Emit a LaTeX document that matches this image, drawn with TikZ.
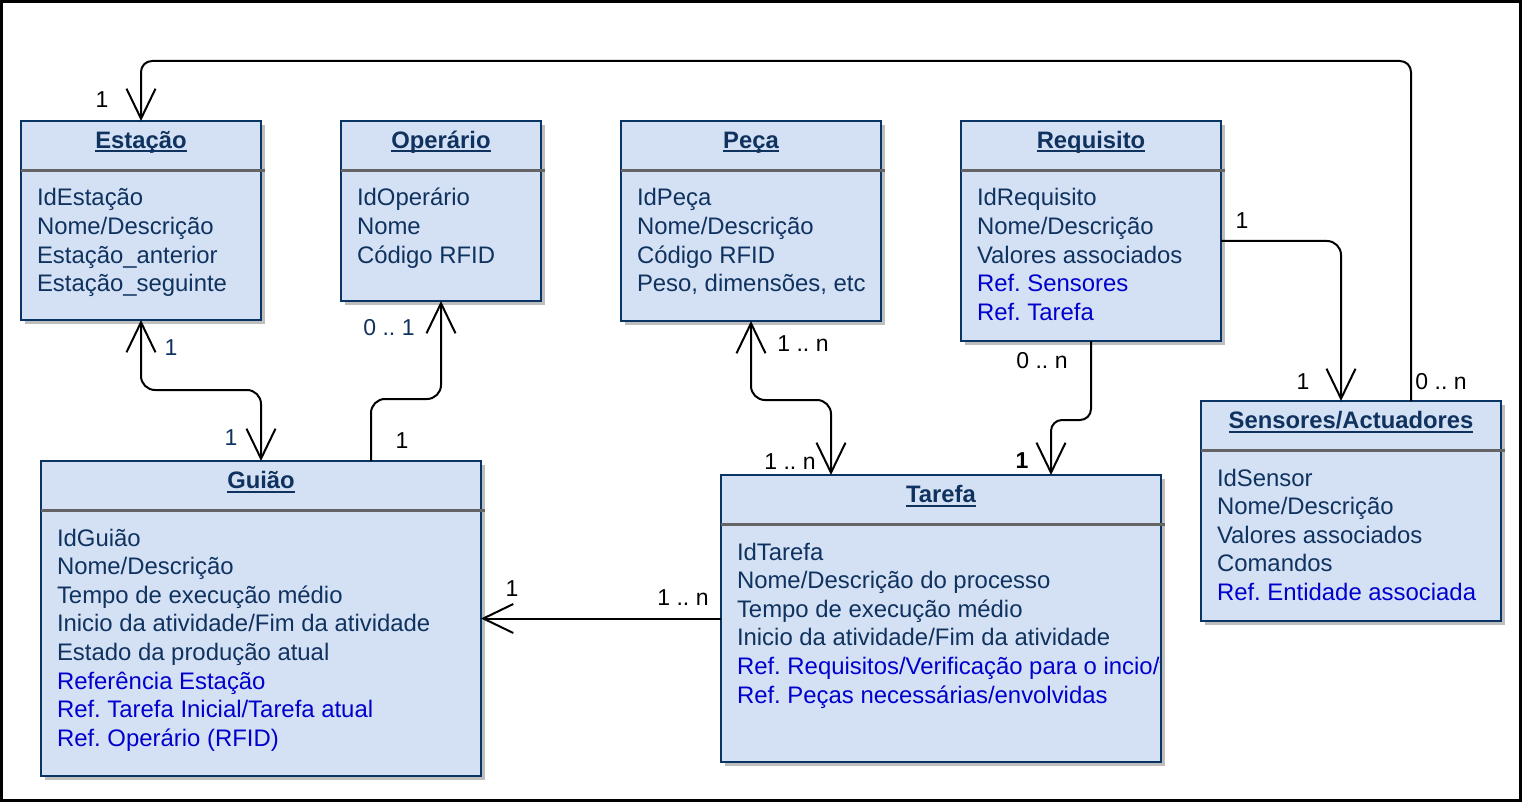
\documentclass[tikz,border=0pt]{standalone}
\usepackage{fontspec}
\setmainfont{Liberation Sans}
\usetikzlibrary{arrows.meta,calc}
\frenchspacing
\definecolor{boxfill}{RGB}{212,225,245}
\definecolor{boxline}{RGB}{10,52,100}
\definecolor{navytext}{RGB}{15,50,95}
\definecolor{refblue}{RGB}{0,0,204}
\definecolor{shadowc}{RGB}{190,190,190}
\definecolor{sepc}{RGB}{100,100,100}
\newcommand\refc[1]{\textcolor{refblue}{#1}}
\tikzset{
  classbox/.style={draw=boxline, fill=boxfill, line width=2pt, inner sep=0pt, outer sep=0pt, rectangle},
  titletext/.style={inner sep=0pt, outer sep=0pt, text=navytext, font=\fontsize{23.8}{28.6}\selectfont\bfseries},
  attrtext/.style={inner sep=0pt, outer sep=0pt, text=navytext, font=\fontsize{23.9}{28.6}\selectfont},
  lab/.style={inner sep=0pt, outer sep=0pt, text=black, font=\fontsize{23}{28}\selectfont},
  conn/.style={draw=black, line width=2pt, rounded corners=14pt},
  >={Straight Barb[length=30pt,width=29pt]},
}
\newcommand\umlclass[7]{%
  \fill[shadowc] (#2+4,#3+4) rectangle (#2+#4+4,#3+#5+4);
  \node[classbox, minimum width=#4pt, minimum height=#5pt, anchor=north west] (#1) at (#2,#3) {};
  \begin{scope}
    \clip ([xshift=0pt,yshift=-1pt]#1.north west) rectangle ([xshift=0pt,yshift=1pt]#1.south east);
    \foreach \t [count=\i] in {#7} {
      \pgfmathsetmacro\yy{-56.4-\i*28.6}
      \node[attrtext, anchor=base west] (#1-a\i) at ([xshift=16pt,yshift=\yy pt]#1.north west) {\t};
    }
  \end{scope}
  \draw[boxline, line width=2pt] (#1.north west) rectangle (#1.south east);
  \node[titletext, anchor=base] (#1-t) at ([yshift=-27.5pt]#1.north) {#6};
  \draw[navytext, line width=2pt] ([yshift=-3pt]#1-t.base west) -- ([yshift=-3pt]#1-t.base east);
  \draw[sepc, line width=3pt] ([yshift=-49.5pt]#1.north west) -- ([xshift=4pt,yshift=-49.5pt]#1.north east);
}
\begin{document}
\begin{tikzpicture}[x=1pt,y=-1pt]
\useasboundingbox (0,0) rectangle (1522,802);
\fill[white] (0,0) rectangle (1522,802);
\draw[black, line width=3pt] (1.5,1.5) rectangle (1520.5,800.5);

\umlclass{est}{21}{121}{240}{199}{Estação}{{IdEstação},{Nome/Descrição},{Estação\_anterior},{Estação\_seguinte}}
\umlclass{ope}{341}{121}{200}{180}{Operário}{{IdOperário},{Nome},{Código RFID}}
\umlclass{pec}{621}{121}{260}{200}{Peça}{{IdPeça},{Nome/Descrição},{Código RFID},{Peso, dimensões, etc}}
\umlclass{req}{961}{121}{260}{220}{Requisito}{{IdRequisito},{Nome/Descrição},{Valores associados},{\refc{Ref. Sensores}},{\refc{Ref. Tarefa}}}
\umlclass{sen}{1201}{401}{300}{220}{Sensores/Actuadores}{{IdSensor},{Nome/Descrição},{Valores associados},{Comandos},{\refc{Ref. Entidade associada}}}
\umlclass{gui}{41}{461}{440}{315}{Guião}{{IdGuião},{Nome/Descrição},{Tempo de execução médio},{Inicio da atividade/Fim da atividade},{Estado da produção atual},{\refc{Referência Estação}},{\refc{Ref. Tarefa Inicial/Tarefa atual}},{\refc{Ref. Operário (RFID)}}}
\umlclass{tar}{721}{475}{440}{287}{Tarefa}{{IdTarefa},{Nome/Descrição do processo},{Tempo de execução médio},{Inicio da atividade/Fim da atividade},{\refc{Ref. Requisitos/Verificação para o incio/fim}},{\refc{Ref. Peças necessárias/envolvidas}}}

% bend helpers
\coordinate (y1) at (0,61);
\coordinate (y2) at (0,390);
\coordinate (y3) at (0,399);
\coordinate (y4) at (0,400);
\coordinate (y5) at (0,420);
\coordinate (s1) at ([xshift=60pt]sen.north);
\coordinate (g3) at ([xshift=110pt]gui.north);
\coordinate (t4) at ([xshift=-110pt]tar.north);
\coordinate (t5) at ([xshift=110pt]tar.north);
\coordinate (r6) at ([yshift=-10pt]req.east);
\coordinate (s6) at ([xshift=-10pt]sen.north);

% connectors
\draw[conn, rounded corners=11pt, ->] (s1) -- (s1 |- y1) -- (est.north |- y1) -- (est.north);
\draw[conn, <->] (est.south) -- (est.south |- y2) -- (gui.north |- y2) -- (gui.north);
\draw[conn, ->] (g3) -- (g3 |- y3) -- (ope.south |- y3) -- (ope.south);
\draw[conn, <->] (pec.south) -- (pec.south |- y4) -- (t4 |- y4) -- (t4);
\draw[conn, rounded corners=11pt, ->] (req.south) -- (req.south |- y5) -- (t5 |- y5) -- (t5);
\draw[conn, ->] (r6) -- (s6 |- r6) -- (s6);
\draw[conn, ->] (tar.west) -- (gui.east |- tar.west);

% multiplicity labels
\node[lab] (l1a) at (102,100) {1};
\node[lab] (l1b) at (1441,382) {0 .. n};
\node[lab, text=navytext] (l2a) at (171,348) {1};
\node[lab, text=navytext] (l2b) at (231,438) {1};
\node[lab] (l3a) at (402,441) {1};
\node[lab, text=navytext] (l3b) at (389,328) {0 .. 1};
\node[lab] (l4a) at (803,344) {1 .. n};
\node[lab] (l4b) at (790,462) {1 .. n};
\node[lab] (l5a) at (1042,361) {0 .. n};
\node[lab] (l5b) at (1022,461) {\bfseries 1};
\node[lab] (l6a) at (1242,221) {1};
\node[lab] (l6b) at (1303,382) {1};
\node[lab] (l7a) at (512,589) {1};
\node[lab] (l7b) at (683,598) {1 .. n};
\end{tikzpicture}
\end{document}
